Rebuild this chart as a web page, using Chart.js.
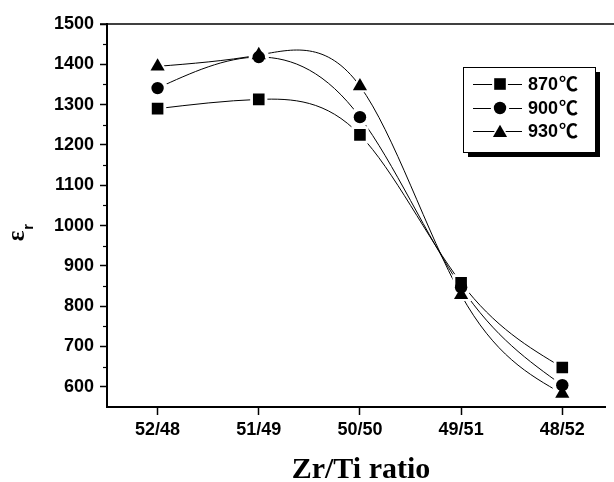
<!DOCTYPE html>
<html>
<head>
<meta charset="utf-8">
<script src="https://cdn.jsdelivr.net/npm/chart.js@4.4.1/dist/chart.umd.min.js"></script>
<style>
  html, body { margin: 0; padding: 0; background: #fff; }
  #wrap { width: 614px; height: 482px; position: relative; }
</style>
</head>
<body>
<div id="wrap"><canvas id="c" width="614" height="482"></canvas></div>
<script>
// ---- data ----
const categories = ['52/48', '51/49', '50/50', '49/51', '48/52'];
const seriesLabels = ['870\u2103', '900\u2103', '930\u2103'];
const values870 = [1290, 1313, 1225, 858, 648];
const values900 = [1341, 1418, 1269, 847, 604];
const values930 = [1395, 1423, 1346, 828, 583];
const yTicks = [600, 700, 800, 900, 1000, 1100, 1200, 1300, 1400, 1500];
const yMinorTicks = [650, 750, 850, 950, 1050, 1150, 1250, 1350, 1450];

const seriesValues = [values870, values900, values930];
const markerStyles = ['rect', 'circle', 'triangle'];
const markerRadius = { rect: 8.2, circle: 6.2, triangle: 8.2 };
const FONT = '"Liberation Sans", Arial, "Noto Sans CJK SC", sans-serif';
const CJK = '"Noto Sans CJK SC", "Noto Sans CJK JP", sans-serif';

const toXY = arr => arr.map((v, i) => ({ x: i, y: v }));

const datasets = [];
// line datasets (drawn first)
seriesValues.forEach((vals, k) => {
  datasets.push({
    label: seriesLabels[k],
    data: toXY(vals),
    borderColor: '#000',
    borderWidth: 1,
    tension: 0.4,
    pointRadius: 0,
    pointHoverRadius: 0,
    order: 2,
    _kind: 'line',
    _style: markerStyles[k]
  });
});
// marker datasets (drawn on top)
seriesValues.forEach((vals, k) => {
  datasets.push({
    label: seriesLabels[k],
    data: toXY(vals),
    showLine: false,
    pointStyle: markerStyles[k],
    pointRadius: markerRadius[markerStyles[k]],
    pointHoverRadius: markerRadius[markerStyles[k]],
    pointBackgroundColor: '#000',
    pointBorderColor: '#000',
    pointBorderWidth: 0,
    order: 1,
    _kind: 'marker',
    _style: markerStyles[k]
  });
});

// natural cubic spline control points (Origin-like spline)
function applyNaturalSpline(pts) {
  const n = pts.length;
  if (n < 3) return;
  const h = pts[1].x - pts[0].x;
  const y = pts.map(p => p.y);
  const M = new Array(n).fill(0);
  const a = [], b = [], c = [], d = [];
  for (let i = 1; i < n - 1; i++) {
    a.push(1); b.push(4); c.push(1);
    d.push(6 * (y[i + 1] - 2 * y[i] + y[i - 1]) / (h * h));
  }
  const m = d.length;
  for (let i = 1; i < m; i++) {
    const w = a[i] / b[i - 1];
    b[i] -= w * c[i - 1];
    d[i] -= w * d[i - 1];
  }
  const sol = new Array(m);
  sol[m - 1] = d[m - 1] / b[m - 1];
  for (let i = m - 2; i >= 0; i--) sol[i] = (d[i] - c[i] * sol[i + 1]) / b[i];
  for (let i = 0; i < m; i++) M[i + 1] = sol[i];
  for (let i = 0; i < n; i++) {
    let dy;
    if (i < n - 1) dy = (y[i + 1] - y[i]) / h - h * (2 * M[i] + M[i + 1]) / 6;
    else dy = (y[i] - y[i - 1]) / h + h * (M[i - 1] + 2 * M[i]) / 6;
    pts[i].cp1x = pts[i].x - h / 3; pts[i].cp1y = pts[i].y - h / 3 * dy;
    pts[i].cp2x = pts[i].x + h / 3; pts[i].cp2y = pts[i].y + h / 3 * dy;
  }
}

const splinePlugin = {
  id: 'spline',
  beforeDatasetsDraw(chart) {
    chart.data.datasets.forEach((ds, i) => {
      if (ds._kind !== 'line') return;
      const meta = chart.getDatasetMeta(i);
      meta.dataset.updateControlPoints(chart.chartArea, 'x');
      applyNaturalSpline(meta.data);
      delete meta.dataset._path;
    });
  }
};

// white halos around markers so lines stop short of them
let haloDone = false;
const haloPlugin = {
  id: 'halo',
  beforeDraw() { haloDone = false; },
  beforeDatasetDraw(chart, args) {
    const ds = chart.data.datasets[args.index];
    if (ds._kind !== 'marker' || haloDone) return;
    haloDone = true;
    const ctx = chart.ctx;
    ctx.save();
    ctx.fillStyle = '#fff';
    chart.data.datasets.forEach((d, i) => {
      if (d._kind !== 'marker') return;
      chart.getDatasetMeta(i).data.forEach(pt => {
        Chart.helpers.drawPoint(ctx, { pointStyle: d.pointStyle, radius: d.pointRadius + 4, borderWidth: 0, rotation: 0 }, pt.x, pt.y);
      });
    });
    ctx.restore();
  }
};

const framePlugin = {
  id: 'frame',
  afterDraw(chart) {
    const ctx = chart.ctx;
    const a = chart.chartArea;
    const ys = chart.scales.y;
    ctx.save();
    ctx.strokeStyle = '#000';
    // top frame line
    ctx.lineWidth = 1.5;
    ctx.beginPath();
    ctx.moveTo(a.left - 7, a.top);
    ctx.lineTo(chart.width, a.top);
    ctx.stroke();
    // minor ticks on y
    ctx.lineWidth = 1.2;
    yMinorTicks.forEach(v => {
      const py = Math.round(ys.getPixelForValue(v)) + 0.5;
      ctx.beginPath();
      ctx.moveTo(a.left - 4, py);
      ctx.lineTo(a.left, py);
      ctx.stroke();
    });
    // x title
    ctx.fillStyle = '#000';
    ctx.font = 'bold 30px "Liberation Serif", "Times New Roman", serif';
    ctx.textAlign = 'center';
    ctx.textBaseline = 'alphabetic';
    ctx.fillText('Zr/Ti ratio', 361, 478);
    // y title (epsilon with subscript r), rotated
    ctx.translate(24, 232);
    ctx.rotate(-Math.PI / 2);
    ctx.textAlign = 'left';
    ctx.font = 'bold 25px "Liberation Serif", "Times New Roman", serif';
    const w = ctx.measureText('\u03b5').width;
    ctx.fillText('\u03b5', -w / 2 - 4, 0);
    ctx.font = 'bold 15px ' + FONT;
    ctx.fillText('r', w / 2 - 3, 9);
    ctx.restore();
  }
};

const legendPlugin = {
  id: 'boxLegend',
  afterDraw(chart) {
    const ctx = chart.ctx;
    const x0 = 463, y0 = 67, x1 = 595, y1 = 152;
    ctx.save();
    ctx.fillStyle = '#000';
    ctx.fillRect(x0 + 5, y0 + 5, x1 - x0, y1 - y0);
    ctx.fillStyle = '#fff';
    ctx.fillRect(x0, y0, x1 - x0, y1 - y0);
    ctx.strokeStyle = '#000';
    ctx.lineWidth = 1;
    ctx.strokeRect(x0 + 0.5, y0 + 0.5, x1 - x0, y1 - y0);
    const rowsY = [84, 108, 131];
    const markers = chart.data.datasets.filter(d => d._kind === 'marker');
    markers.forEach((d, k) => {
      const yy = rowsY[k];
      ctx.strokeStyle = '#000';
      ctx.lineWidth = 1;
      ctx.beginPath();
      ctx.moveTo(x0 + 10, yy + 0.5);
      ctx.lineTo(x0 + 59, yy + 0.5);
      ctx.stroke();
      const my = d.pointStyle === 'triangle' ? yy + 2 : yy;
      ctx.fillStyle = '#fff';
      Chart.helpers.drawPoint(ctx, { pointStyle: d.pointStyle, radius: d.pointRadius + 3, borderWidth: 0, rotation: 0 }, x0 + 37, my);
      ctx.fillStyle = '#000';
      Chart.helpers.drawPoint(ctx, { pointStyle: d.pointStyle, radius: d.pointRadius, borderWidth: 0, rotation: 0 }, x0 + 37, my);
      // label: number part in sans, degree sign in a full-width CJK glyph
      const label = d.label;
      const num = label.replace('\u2103', '');
      const unit = label.slice(num.length);
      ctx.fillStyle = '#000';
      ctx.textAlign = 'left';
      ctx.textBaseline = 'middle';
      ctx.font = 'bold 18px ' + FONT;
      ctx.fillText(num, x0 + 65, yy + 1);
      const nw = ctx.measureText(num).width;
      ctx.font = 'bold 19px ' + CJK;
      ctx.fillText(unit, x0 + 65 + nw + 1, yy);
    });
    ctx.restore();
  }
};

new Chart(document.getElementById('c'), {
  type: 'line',
  data: { datasets },
  options: {
    responsive: false,
    animation: false,
    events: [],
    layout: { padding: { top: 24, right: 0, left: 0, bottom: 0 } },
    plugins: { legend: { display: false }, tooltip: { enabled: false }, title: { display: false } },
    scales: {
      x: {
        type: 'linear',
        min: -0.5,
        max: 4.43,
        afterFit: s => { s.height = 75; },
        afterBuildTicks: s => { s.ticks = categories.map((_, i) => ({ value: i })); },
        ticks: {
          callback: v => categories[v],
          color: '#000',
          font: { family: FONT, size: 18, weight: 'bold' },
          padding: 4,
          maxRotation: 0,
          autoSkip: false
        },
        grid: { drawOnChartArea: false, drawTicks: true, tickLength: 8, tickWidth: 1.5, tickColor: '#000' },
        border: { display: true, color: '#000', width: 2 }
      },
      y: {
        min: 550,
        max: 1500,
        afterFit: s => { s.width = 107; },
        afterBuildTicks: s => { s.ticks = yTicks.map(v => ({ value: v })); },
        ticks: {
          callback: v => String(v),
          color: '#000',
          font: { family: FONT, size: 18, weight: 'bold' },
          padding: 6
        },
        grid: { drawOnChartArea: false, drawTicks: true, tickLength: 7, tickWidth: 1.5, tickColor: '#000' },
        border: { display: true, color: '#000', width: 2 }
      }
    }
  },
  plugins: [splinePlugin, haloPlugin, framePlugin, legendPlugin]
});
</script>
</body>
</html>
